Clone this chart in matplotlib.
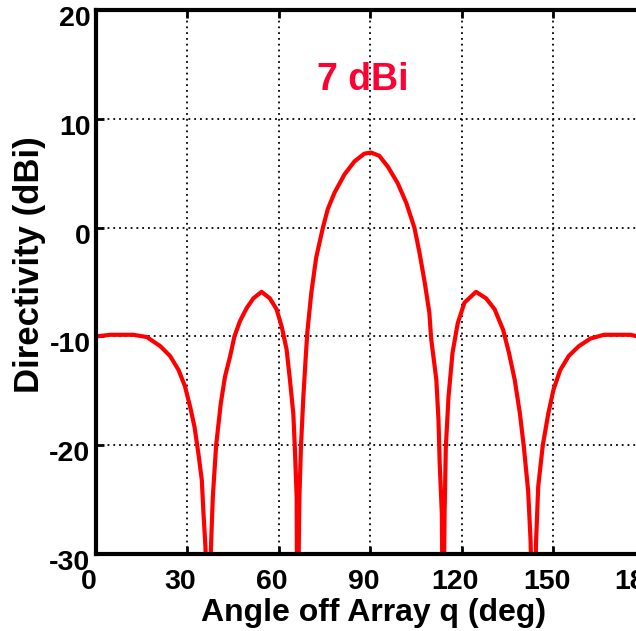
import numpy as np
import matplotlib.pyplot as plt
import matplotlib.transforms as mtransforms

plt.rcParams['font.family'] = ['Liberation Sans', 'DejaVu Sans']
plt.rcParams['font.weight'] = 'bold'
plt.rcParams['axes.unicode_minus'] = False

# Valores (angulo en grados, directividad en dBi)
angle_deg = [0, 4.7, 12.3, 16.7, 21.1, 24.3, 27.1, 29.2, 30.9, 32.3, 33.6,
             34.7, 35.2, 35.9, 36.9, 37.7, 38.3, 39.4, 40.9, 42.3, 44.0, 45.4,
             47.2, 49.4, 51.6, 54.3, 57.0, 59.2, 60.9, 62.5, 63.6, 64.7, 65.2,
             65.8, 66.0, 66.7, 67.2, 68.0, 68.8, 69.3, 70.6, 72.2, 74.4, 76.0,
             78.2, 81.5, 84.8, 88.0, 90.2, 92.9, 95.7, 98.9, 101.7, 104.4,
             106.0, 107.7, 109.3, 109.9, 111.6, 112.3, 112.7, 113.4, 113.8,
             114.3, 114.7, 115.6, 116.9, 118.6, 120.8, 124.6, 127.9, 130.7,
             133.5, 135.4, 137.3, 139.0, 140.3, 141.7, 142.5, 143.4, 144.3,
             145.0, 146.5, 148.3, 150.0, 152.2, 155.0, 158.3, 162.1, 166.5,
             175.3, 178.4, 180]
directivity_dbi = [-10.0, -9.85, -9.85, -10.06, -10.9, -11.8, -13.1, -14.6,
                   -16.5, -18.3, -20.8, -23.2, -26.0, -29.4, -40, -29.4, -24.8,
                   -20.0, -16.2, -13.7, -11.8, -10.0, -8.6, -7.4, -6.5, -5.9,
                   -6.5, -7.5, -9.1, -11.2, -14.0, -17.1, -20.2, -24.8, -40,
                   -24.8, -20.2, -15.5, -11.8, -9.6, -6.0, -2.75, 0, 1.7, 3.2,
                   4.9, 6.1, 6.8, 6.9, 6.6, 5.6, 4.1, 2.3, 0, -2.2, -4.9, -7.8,
                   -10.2, -14.0, -17.7, -21.7, -26.3, -40, -26.3, -20.2, -15.5,
                   -11.5, -8.8, -6.9, -5.9, -6.5, -7.5, -9.4, -11.5, -14.0,
                   -17.1, -20.2, -24.2, -28.8, -40, -28.8, -23.8, -20.0, -17.1,
                   -14.9, -13.1, -11.8, -10.9, -10.2, -9.85, -9.85, -10.06,
                   -10.1]

x_ticks = [0, 30, 60, 90, 120, 150, 180]
y_ticks = [-30, -20, -10, 0, 10, 20]

fig = plt.figure(figsize=(6.36, 6.31), dpi=100)
ax = fig.add_axes([0.1509, 0.122, 0.8632, 0.8621])

ax.plot(angle_deg, directivity_dbi, color='#ff0000', lw=3)

ax.set_xlim(0, 180)
ax.set_ylim(-30, 20)
ax.set_xticks(x_ticks)
ax.set_yticks(y_ticks)
ax.grid(True, color='black', linestyle=(0, (1, 2.2)), lw=1.3)

for s in ax.spines.values():
    s.set_linewidth(3)
ax.tick_params(direction='in', length=6, width=2, top=True, right=True,
               labelsize=20.5)
ax.tick_params(axis='x', pad=11)
ax.tick_params(axis='y', pad=4)

# etiquetas desplazadas como en el original
off_y = mtransforms.ScaledTranslation(0, -6 / 100, fig.dpi_scale_trans)
for lab in ax.get_yticklabels():
    lab.set_transform(lab.get_transform() + off_y)
off_x = mtransforms.ScaledTranslation(-7 / 100, 0, fig.dpi_scale_trans)
for lab in ax.get_xticklabels():
    lab.set_transform(lab.get_transform() + off_x)

ax.set_xlabel('Angle off Array q (deg)', fontsize=23, fontweight='bold')
ax.set_ylabel('Directivity (dBi)', fontsize=25, fontweight='bold')
ax.xaxis.set_label_coords(0.506, -0.08)
ax.yaxis.set_label_coords(-0.091, 0.532)

ax.text(87.5, 13.6, '7 dBi', color='#ff0033', fontsize=27, fontweight='bold',
        ha='center', va='center')

plt.savefig('out.png', dpi=100)
